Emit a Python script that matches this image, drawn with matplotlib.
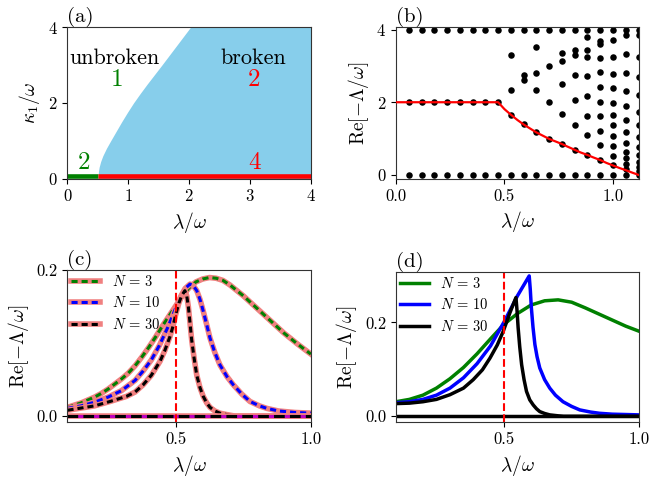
import numpy as np
import matplotlib
matplotlib.use('Agg')
from matplotlib import pyplot as plt
from matplotlib.legend_handler import HandlerTuple

plt.rcParams['font.family'] = 'serif'
plt.rcParams['font.serif'] = ['cmr10']
plt.rcParams['mathtext.fontset'] = 'cm'
plt.rcParams['axes.formatter.use_mathtext'] = True
plt.rcParams['axes.unicode_minus'] = False

# (a) phase diagram: boundary of the broken region
kappa_edge = [0, 0.1, 0.2, 0.3, 0.45, 0.6, 0.8, 1.0, 1.25, 1.5, 1.75, 2.0, 2.25, 2.5, 2.75,
              3.0, 3.5, 4.0]
lam_edge = [0.50, 0.505, 0.51, 0.52, 0.545, 0.58, 0.64, 0.71, 0.80, 0.89, 0.985, 1.085,
            1.195, 1.31, 1.43, 1.55, 1.785, 2.02]
lam_crit = 0.5

# (b) spectrum, one list of Re[-Lambda/omega] per lambda column
lam_cols = [0.059, 0.118, 0.176, 0.235, 0.294, 0.353, 0.412, 0.471, 0.529, 0.588,
            0.647, 0.706, 0.765, 0.824, 0.882, 0.941, 1.0, 1.059, 1.118]
re_cols = [
    [0, 2, 4], [0, 2, 4], [0, 2, 4], [0, 2, 4], [0, 2, 4], [0, 2, 4], [0, 2, 4], [0, 2, 4],
    [0, 1.66, 2.34, 3.29, 4],
    [0, 1.39, 2.61, 2.75, 4],
    [0, 1.17, 2.34, 2.81, 3.53, 4],
    [0, 0.99, 2.0, 2.99, 4],
    [0, 0.85, 1.67, 2.51, 3.14, 3.35, 4],
    [0, 0.69, 1.37, 2.06, 2.75, 3.30, 3.44, 4],
    [0, 0.55, 1.09, 1.63, 2.18, 2.72, 3.25, 3.44, 3.80, 4],
    [0, 0.41, 0.82, 1.22, 1.63, 2.02, 2.41, 2.82, 3.23, 3.60, 3.69, 4],
    [0, 0.26, 0.52, 0.79, 1.07, 1.37, 1.64, 1.99, 2.38, 2.78, 3.24, 3.72, 4],
    [0, 0.15, 0.29, 0.46, 0.64, 0.87, 1.18, 1.50, 1.89, 2.31, 2.81, 3.32, 3.85, 4],
    [0, 0.11, 0.23, 0.36, 0.55, 0.77, 1.05, 1.37, 1.73, 2.20, 2.70, 3.25, 3.84, 4],
]
gap_lam = [0, 0.471, 0.50, 0.529, 0.56, 0.588, 0.62, 0.647, 0.68, 0.706, 0.74, 0.765, 0.79,
           0.824, 0.85, 0.882, 0.91, 0.941, 0.97, 1.0, 1.03, 1.059, 1.09, 1.118]
gap_re = [2, 2, 1.81, 1.66, 1.51, 1.39, 1.27, 1.17, 1.07, 0.99, 0.91, 0.85, 0.78,
          0.69, 0.62, 0.55, 0.48, 0.41, 0.33, 0.26, 0.19, 0.13, 0.06, 0.0]

# (c) gap vs lambda
lam_c3 = [0.10, 0.125, 0.15, 0.175, 0.20, 0.225, 0.25, 0.275, 0.30, 0.325, 0.35, 0.375,
          0.40, 0.425, 0.45, 0.475, 0.50, 0.525, 0.55, 0.575, 0.60, 0.625, 0.65, 0.675,
          0.70, 0.75, 0.80, 0.85, 0.90, 0.95, 1.0]
re_c3 = [0.012, 0.015, 0.018, 0.022, 0.026, 0.031, 0.037, 0.044, 0.051, 0.059, 0.069, 0.081,
         0.094, 0.108, 0.123, 0.137, 0.151, 0.165, 0.176, 0.184, 0.188, 0.190, 0.189, 0.186,
         0.180, 0.165, 0.148, 0.131, 0.114, 0.099, 0.085]
lam_c10 = [0.10, 0.15, 0.20, 0.25, 0.30, 0.35, 0.38, 0.41, 0.44, 0.47, 0.50, 0.52, 0.535,
           0.553, 0.565, 0.578, 0.59, 0.602, 0.615, 0.627, 0.645, 0.664, 0.69, 0.713, 0.745,
           0.775, 0.81, 0.837, 0.88, 0.94, 1.0]
re_c10 = [0.0105, 0.014, 0.019, 0.026, 0.035, 0.049, 0.062, 0.077, 0.097, 0.121, 0.148,
          0.165, 0.175, 0.181, 0.179, 0.172, 0.160, 0.144, 0.125, 0.107, 0.087, 0.070,
          0.054, 0.043, 0.030, 0.020, 0.014, 0.0106, 0.007, 0.005, 0.004]
lam_c30 = [0.10, 0.15, 0.20, 0.257, 0.318, 0.35, 0.38, 0.41, 0.442, 0.46, 0.479, 0.49, 0.50,
           0.512, 0.522, 0.534, 0.541, 0.547, 0.553, 0.559, 0.568, 0.578, 0.59, 0.602, 0.615,
           0.627, 0.645, 0.664, 0.69, 0.72, 1.0]
re_c30 = [0.008, 0.011, 0.014, 0.020, 0.027, 0.033, 0.043, 0.056, 0.075, 0.090, 0.109, 0.123,
          0.139, 0.155, 0.165, 0.172, 0.165, 0.150, 0.128, 0.105, 0.080, 0.056, 0.039, 0.027,
          0.018, 0.012, 0.007, 0.004, 0.002, 0.0, 0.0]

# (d) gap vs lambda
lam_d3 = [0.10, 0.15, 0.20, 0.25, 0.30, 0.35, 0.40, 0.45, 0.50, 0.55, 0.60, 0.65, 0.70,
          0.75, 0.80, 0.85, 0.90, 0.95, 1.0]
re_d3 = [0.031, 0.036, 0.045, 0.060, 0.080, 0.104, 0.133, 0.165, 0.196, 0.219, 0.237, 0.246,
         0.248, 0.243, 0.231, 0.218, 0.205, 0.192, 0.181]
lam_d10 = [0.10, 0.15, 0.20, 0.25, 0.30, 0.35, 0.40, 0.45, 0.50, 0.55, 0.593, 0.597, 0.601,
           0.607, 0.614, 0.622, 0.632, 0.65, 0.669, 0.69, 0.718, 0.75, 0.78, 0.82, 0.853,
           0.90, 1.0]
re_d10 = [0.029, 0.031, 0.036, 0.045, 0.060, 0.082, 0.112, 0.150, 0.201, 0.257, 0.299, 0.270,
          0.231, 0.190, 0.153, 0.127, 0.103, 0.078, 0.060, 0.045, 0.031, 0.021, 0.0136, 0.009,
          0.0064, 0.0045, 0.003]
lam_d30 = [0.10, 0.15, 0.20, 0.25, 0.30, 0.35, 0.386, 0.42, 0.448, 0.475, 0.497, 0.522, 0.544,
           0.548, 0.552, 0.558, 0.565, 0.574, 0.583, 0.595, 0.608, 0.62, 0.632, 0.65, 0.669,
           0.70, 0.72, 1.0]
re_d30 = [0.027, 0.028, 0.031, 0.036, 0.046, 0.060, 0.078, 0.099, 0.124, 0.152, 0.181, 0.221,
          0.253, 0.225, 0.189, 0.148, 0.110, 0.078, 0.053, 0.035, 0.024, 0.016, 0.010, 0.006,
          0.003, 0.001, 0.0, 0.0]

labels = [r'$N\,=\,3$', r'$N\,=\,10$', r'$N\,=\,30$']
colors = ['green', 'blue', 'black']

fig = plt.figure(figsize=(6.49, 4.8), dpi=100)
ax_a = fig.add_axes([0.104, 0.628, 0.375, 0.315])
ax_b = fig.add_axes([0.610, 0.628, 0.374, 0.315])
ax_c = fig.add_axes([0.104, 0.121, 0.375, 0.316])
ax_d = fig.add_axes([0.610, 0.121, 0.375, 0.312])

for ax in [ax_a, ax_b, ax_c, ax_d]:
    ax.tick_params(labelsize=12)
    for s in ax.spines.values():
        s.set_color('0.2')

# (a)
ax_a.fill_betweenx(kappa_edge, lam_edge, 4, color='skyblue', lw=0)
ax_a.plot([0, lam_crit], [0.075, 0.075], color='green', lw=3.3, solid_capstyle='butt')
ax_a.plot([lam_crit, 4], [0.075, 0.075], color='red', lw=3.3, solid_capstyle='butt')
ax_a.text(0.78, 3.18, 'unbroken', fontsize=16, ha='center', va='center')
ax_a.text(0.81, 2.6, '1', fontsize=18, color='green', ha='center', va='center')
ax_a.text(3.05, 3.18, 'broken', fontsize=16, ha='center', va='center')
ax_a.text(3.06, 2.6, '2', fontsize=18, color='red', ha='center', va='center')
ax_a.text(0.27, 0.42, '2', fontsize=18, color='green', ha='center', va='center')
ax_a.text(3.08, 0.42, '4', fontsize=18, color='red', ha='center', va='center')
ax_a.set_xlim(0, 4)
ax_a.set_ylim(0, 4)
ax_a.set_xticks([0, 1, 2, 3, 4])
ax_a.set_yticks([0, 2, 4])
ax_a.set_xlabel(r'$\lambda/\omega$', fontsize=14)
ax_a.set_ylabel(r'$\kappa_1/\omega$', fontsize=14)
ax_a.set_title('(a)', loc='left', fontsize=15, pad=4)

# (b)
for lam, vals in zip(lam_cols, re_cols):
    ax_b.scatter([lam] * len(vals), vals, s=22, color='black', zorder=2, lw=0)
ax_b.plot(gap_lam, gap_re, color='red', lw=1.6, zorder=3)
ax_b.set_xlim(0, 1.118)
ax_b.set_ylim(-0.1, 4.06)
ax_b.set_xticks([0.0, 0.5, 1.0])
ax_b.set_yticks([0, 2, 4])
ax_b.set_xticklabels(['0.0', '0.5', '1.0'])
ax_b.set_xlabel(r'$\lambda/\omega$', fontsize=14)
ax_b.set_ylabel(r'$\mathrm{Re}[-\Lambda/\omega]$', fontsize=14)
ax_b.set_title('(b)', loc='left', fontsize=15, pad=4)

# (c)
handles = []
for lam, re, c in zip([lam_c3, lam_c10, lam_c30], [re_c3, re_c10, re_c30], colors):
    h1, = ax_c.plot(lam, re, color='lightcoral', lw=4)
    h2, = ax_c.plot(lam, re, color=c, lw=2.2, dashes=(2, 1.3))
    handles.append((h1, h2))
ax_c.plot([0.1, 1.0], [0, 0], color='lightcoral', lw=4)
ax_c.plot([0.1, 1.0], [0, 0], color='m', lw=2.2)
ax_c.plot([0.1, 1.0], [0, 0], color='black', lw=2.2, dashes=(3.5, 1.7))
ax_c.axvline(lam_crit, color='red', ls='--', lw=1.5)
ax_c.legend(handles, labels, handler_map={tuple: HandlerTuple(ndivide=1)},
            loc='upper left', frameon=False, fontsize=10.5, handlelength=2.0,
            borderaxespad=0.0, borderpad=0.25, labelspacing=0.45)
ax_c.set_xlim(0.1, 1.0)
ax_c.set_ylim(-0.008, 0.2)
ax_c.set_xticks([0.5, 1.0])
ax_c.set_yticks([0.0, 0.2])
ax_c.set_xticklabels(['0.5', '1.0'])
ax_c.set_yticklabels(['0.0', '0.2'])
ax_c.set_xlabel(r'$\lambda/\omega$', fontsize=14)
ax_c.set_ylabel(r'$\mathrm{Re}[-\Lambda/\omega]$', fontsize=14)
ax_c.set_title('(c)', loc='left', fontsize=15, pad=4)

# (d)
for lam, re, c, lab in zip([lam_d3, lam_d10, lam_d30], [re_d3, re_d10, re_d30], colors, labels):
    ax_d.plot(lam, re, color=c, lw=2.5, label=lab)
ax_d.plot([0.1, 1.0], [0, 0], color='black', lw=2.5)
ax_d.axvline(lam_crit, color='red', ls='--', lw=1.5)
ax_d.legend(loc='upper left', frameon=False, fontsize=10.5, handlelength=2.0,
            borderaxespad=0.0, borderpad=0.25, labelspacing=0.45)
ax_d.set_xlim(0.1, 1.0)
ax_d.set_ylim(-0.012, 0.307)
ax_d.set_xticks([0.5, 1.0])
ax_d.set_yticks([0.0, 0.2])
ax_d.set_xticklabels(['0.5', '1.0'])
ax_d.set_yticklabels(['0.0', '0.2'])
ax_d.set_xlabel(r'$\lambda/\omega$', fontsize=14)
ax_d.set_ylabel(r'$\mathrm{Re}[-\Lambda/\omega]$', fontsize=14)
ax_d.set_title('(d)', loc='left', fontsize=15, pad=4)

fig.savefig('out.png', dpi=100)
